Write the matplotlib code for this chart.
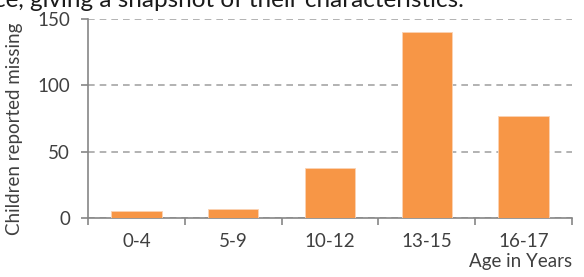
import matplotlib
matplotlib.use("Agg")
import matplotlib.pyplot as plt

# data
ages = ["0-4", "5-9", "10-12", "13-15", "16-17"]
missing = [5, 7, 38, 140, 77]
y_ticks = [0, 50, 100, 150]

plt.rcParams["font.family"] = ["Lato", "DejaVu Sans"]

fig = plt.figure(figsize=(5.84, 2.77), dpi=100)
ax = fig.add_axes([88 / 584, 1 - 218 / 277, (572 - 88) / 584, (218 - 19) / 277])

x = list(range(len(ages)))
ax.bar(x, missing, width=0.52, color="#F79646", edgecolor="#FAD3B4", linewidth=0.6, zorder=3)

ax.set_xlim(-0.5, len(ages) - 0.5)
ax.set_ylim(0, 150)
ax.set_yticks(y_ticks)
ax.yaxis.grid(True, linestyle=(0, (4, 3)), color="#A6A6A6", linewidth=1.2, zorder=0)

# category labels centred, tick marks at boundaries (Excel style)
ax.set_xticks(x)
ax.set_xticklabels(ages)
ax.tick_params(axis="x", which="major", length=0, pad=11, labelsize=13.5, labelcolor="#404040")
ax.set_xticks([i - 0.5 for i in range(len(ages) + 1)], minor=True)
ax.tick_params(axis="x", which="minor", length=5, width=1.2, color="#868686", direction="out")
ax.tick_params(axis="y", length=5, width=1.2, color="#868686", labelsize=13.5,
               labelcolor="#404040", pad=8)

for s in ["top", "right"]:
    ax.spines[s].set_visible(False)
for s in ["left", "bottom"]:
    ax.spines[s].set_color("#868686")
    ax.spines[s].set_linewidth(1.2)

ax.set_ylabel("Children reported missing", fontsize=13.5, color="#404040")
ax.yaxis.set_label_coords((23 - 88) / 484, (218 - 129) / 199)
fig.text(572 / 584, 1 - 262 / 277, "Age in Years", ha="right", va="center",
         fontsize=13.5, color="#404040")

# clipped sentence from the surrounding document
fig.text(-6 / 584, 1 - 7 / 277, "ce, giving a snapshot of their characteristics.",
         ha="left", va="baseline", fontsize=17.5, color="#1a1a1a")

fig.savefig("out.png", dpi=100)
